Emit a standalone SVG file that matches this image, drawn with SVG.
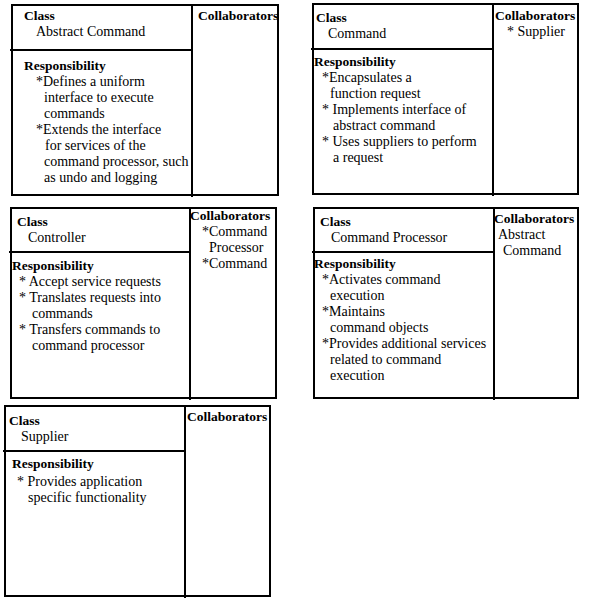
<svg xmlns="http://www.w3.org/2000/svg" width="605" height="604" viewBox="0 0 605 604">
<style>
text{font-family:"Liberation Serif","Times New Roman",serif;font-size:14px;fill:#000}
.b{font-weight:bold;font-size:13.5px}
.ln{stroke:#000;stroke-width:2;fill:none}
</style>
<rect width="605" height="604" fill="#fff"/>
<g id="card-abstract-command">
<text class="b" x="24" y="20">Class</text>
<text x="36" y="36">Abstract Command</text>
<text class="b" x="198" y="20">Collaborators</text>
<text class="b" x="24" y="70">Responsibility</text>
<text x="36" y="86">*Defines a uniform</text>
<text x="44" y="102">interface to execute</text>
<text x="44" y="118">commands</text>
<text x="36" y="134">*Extends the interface</text>
<text x="45" y="150">for services of the</text>
<text x="44" y="166">command processor, such</text>
<text x="44" y="182">as undo and logging</text>
<rect class="ln" x="12" y="5" width="266" height="190"/>
<line class="ln" x1="192" y1="5" x2="192" y2="197"/>
<line class="ln" x1="10" y1="50" x2="192" y2="50"/>
</g>
<g id="card-command">
<text class="b" x="316" y="22">Class</text>
<text x="328" y="38">Command</text>
<text class="b" x="495" y="20">Collaborators</text>
<text x="507" y="36">* Supplier</text>
<text class="b" x="314" y="66">Responsibility</text>
<text x="322" y="82">*Encapsulates a</text>
<text x="330" y="98">function request</text>
<text x="322" y="114">* Implements interface of</text>
<text x="333" y="130">abstract command</text>
<text x="322" y="146">* Uses suppliers to perform</text>
<text x="333" y="162">a request</text>
<rect class="ln" x="313" y="4" width="265" height="190"/>
<line class="ln" x1="493" y1="4" x2="493" y2="196"/>
<line class="ln" x1="311" y1="49" x2="493" y2="49"/>
</g>
<g id="card-controller">
<text class="b" x="17" y="226">Class</text>
<text x="28" y="242">Controller</text>
<text class="b" x="190" y="220">Collaborators</text>
<text x="202" y="236">*Command</text>
<text x="209" y="252">Processor</text>
<text x="202" y="268">*Command</text>
<text class="b" x="12" y="270">Responsibility</text>
<text x="19" y="286">* Accept service requests</text>
<text x="19" y="302">* Translates requests into</text>
<text x="32" y="318">commands</text>
<text x="19" y="334">* Transfers commands to</text>
<text x="32" y="350">command processor</text>
<rect class="ln" x="11" y="208" width="265" height="190"/>
<line class="ln" x1="190" y1="208" x2="190" y2="400"/>
<line class="ln" x1="9" y1="252" x2="190" y2="252"/>
</g>
<g id="card-command-processor">
<text class="b" x="320" y="226">Class</text>
<text x="331" y="242">Command Processor</text>
<text class="b" x="494" y="223">Collaborators</text>
<text x="498" y="239">Abstract</text>
<text x="503" y="255">Command</text>
<text class="b" x="314" y="268">Responsibility</text>
<text x="322" y="284">*Activates command</text>
<text x="330" y="300">execution</text>
<text x="322" y="316">*Maintains</text>
<text x="330" y="332">command objects</text>
<text x="322" y="348">*Provides additional services</text>
<text x="330" y="364">related to command</text>
<text x="330" y="380">execution</text>
<rect class="ln" x="314" y="208" width="264" height="190"/>
<line class="ln" x1="494" y1="208" x2="494" y2="400"/>
<line class="ln" x1="312" y1="252" x2="494" y2="252"/>
</g>
<g id="card-supplier">
<text class="b" x="9" y="425">Class</text>
<text x="21" y="441">Supplier</text>
<text class="b" x="187" y="421">Collaborators</text>
<text class="b" x="12" y="468">Responsibility</text>
<text x="17" y="486">* Provides application</text>
<text x="28" y="502">specific functionality</text>
<rect class="ln" x="5" y="406" width="265" height="190"/>
<line class="ln" x1="185" y1="406" x2="185" y2="598"/>
<line class="ln" x1="3" y1="451" x2="185" y2="451"/>
</g>
<g id="connectors"></g>
</svg>
